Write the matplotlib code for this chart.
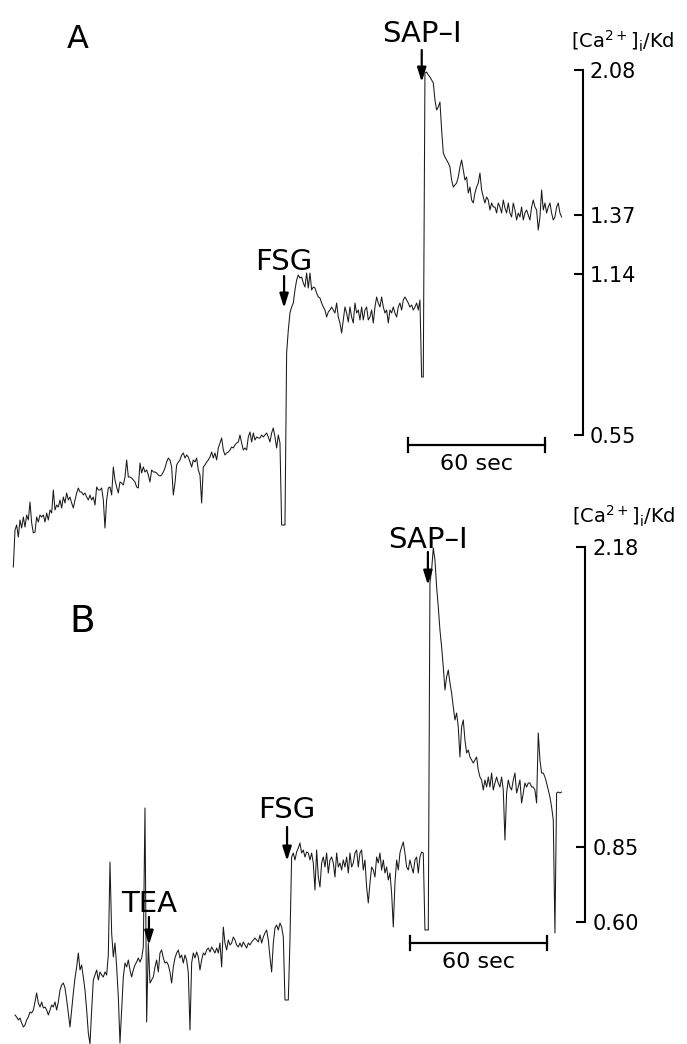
import numpy as np
import matplotlib
matplotlib.use("Agg")
import matplotlib.pyplot as plt

# sampling interval of the ratio traces (s)
DT = 0.73

# panel A: fluorescence ratio (a.u.), one sample every DT
ratio_A = [
    0.33, 0.70, 0.75, 0.63, 0.80, 0.72, 0.83, 0.73, 0.85, 0.80, 0.98, 0.77,
    0.67, 0.68, 0.83, 0.78, 0.85, 0.83, 0.85, 0.78, 0.87, 0.80, 0.90, 0.87,
    1.10, 0.90, 0.95, 0.93, 1.00, 0.92, 1.03, 0.97, 1.07, 1.00, 1.03, 0.97,
    0.92, 1.00, 1.07, 1.12, 1.08, 1.08, 1.05, 1.07, 1.03, 1.00, 1.05, 1.00,
    1.03, 0.95, 1.13, 1.10, 1.10, 1.12, 1.00, 0.72, 1.00, 1.12, 1.13, 1.05,
    1.33, 1.20, 1.13, 1.07, 1.18, 1.17, 1.15, 1.23, 1.40, 1.23, 1.23, 1.22,
    1.20, 1.18, 1.13, 1.12, 1.37, 1.27, 1.33, 1.28, 1.30, 1.25, 1.18, 1.30,
    1.28, 1.28, 1.27, 1.25, 1.24, 1.25, 1.28, 1.32, 1.38, 1.42, 1.40, 1.33,
    1.05, 1.17, 1.35, 1.38, 1.40, 1.45, 1.47, 1.42, 1.45, 1.43, 1.38, 1.33,
    1.40, 1.38, 1.42, 1.30, 1.25, 0.97, 1.33, 1.35, 1.38, 1.40, 1.43, 1.48,
    1.42, 1.47, 1.40, 1.52, 1.57, 1.62, 1.50, 1.45, 1.47, 1.48, 1.50, 1.53,
    1.52, 1.55, 1.57, 1.58, 1.65, 1.57, 1.50, 1.52, 1.50, 1.63, 1.68, 1.58,
    1.67, 1.60, 1.63, 1.62, 1.62, 1.65, 1.63, 1.65, 1.67, 1.63, 1.58, 1.67,
    1.72, 1.63, 1.52, 1.65, 1.57, 0.75, 0.75, 0.75,
    # FSG
    2.47, 2.70, 2.87, 2.93, 2.97, 3.10, 3.20, 3.25, 3.22, 3.23, 3.17, 3.13,
    3.27, 3.12, 3.27, 3.10, 3.13, 3.12, 3.07, 3.03, 3.02, 2.97, 2.93, 2.90,
    2.83, 2.88, 2.90, 2.93, 2.90, 2.87, 2.97, 2.83, 2.77, 2.67, 2.80, 2.93,
    2.87, 2.78, 2.93, 2.83, 2.77, 2.97, 2.87, 2.90, 2.80, 2.93, 2.80, 2.90,
    2.93, 2.80, 2.83, 2.90, 2.77, 2.93, 3.03, 2.97, 2.93, 3.03, 2.93, 2.87,
    2.90, 2.77, 2.90, 2.87, 2.93, 2.87, 2.83, 2.93, 2.97, 2.90, 3.00, 3.03,
    3.00, 2.97, 2.93, 2.95, 2.90, 2.93, 2.97, 2.90, 3.00, 2.23, 2.23,
    # SAP-I
    5.27, 5.28, 5.25, 5.23, 5.20, 5.17, 5.00, 4.90, 4.93, 4.98, 4.70, 4.47, 4.43,
    4.40, 4.37, 4.33, 4.20, 4.13, 4.15, 4.17, 4.23, 4.33, 4.40, 4.30, 4.20,
    4.23, 4.07, 4.13, 4.00, 3.97, 4.07, 4.13, 4.17, 4.27, 4.10, 4.03, 3.97,
    4.03, 4.00, 3.90, 3.97, 3.93, 3.93, 3.87, 3.97, 3.93, 3.87, 4.00, 3.92,
    3.87, 3.97, 3.87, 3.83, 3.97, 3.90, 3.80, 3.87, 3.83, 3.93, 3.80, 3.87,
    3.90, 3.85, 3.80, 3.93, 4.00, 3.93, 3.90, 3.70, 3.83, 4.10, 3.90, 3.97,
    3.87, 3.93, 3.97, 3.87, 3.80, 3.83, 3.93, 3.97, 3.87, 3.83,
]

# panel B: fluorescence ratio (a.u.), starts one sample later than A
ratio_B = [
    0.35, 0.33, 0.30, 0.32, 0.27, 0.23, 0.25, 0.30, 0.33, 0.38, 0.37, 0.40,
    0.48, 0.57, 0.47, 0.43, 0.48, 0.42, 0.43, 0.40, 0.35, 0.40, 0.45, 0.43,
    0.48, 0.40, 0.48, 0.60, 0.65, 0.67, 0.62, 0.50, 0.37, 0.23, 0.40, 0.57,
    0.72, 0.83, 0.97, 0.80, 0.85, 0.73, 0.60, 0.40, 0.17, 0.06, 0.40, 0.70,
    0.75, 0.80, 0.70, 0.78, 0.75, 0.73, 0.78, 0.75, 0.95, 1.88, 1.17, 0.93,
    1.07, 0.83, 0.53, 0.07, 0.40, 0.73, 0.87, 0.83, 0.90, 0.80, 0.73, 0.80,
    # TEA
    0.85, 0.88, 0.92, 0.88, 0.92, 1.03, 2.42, 0.28, 1.07, 0.67, 0.70, 0.73,
    0.83, 0.90, 0.78, 0.97, 1.00, 0.92, 0.87, 0.88, 0.85, 0.78, 0.67, 0.83,
    0.92, 0.97, 1.00, 0.92, 0.95, 0.87, 0.95, 0.90, 0.77, 0.20, 0.87, 0.97,
    0.92, 0.98, 0.93, 0.80, 0.90, 0.97, 0.95, 1.00, 1.02, 0.98, 1.03, 1.00,
    0.97, 1.02, 0.97, 1.07, 0.83, 1.23, 1.07, 1.00, 1.10, 1.05, 1.07, 1.13,
    1.10, 1.05, 1.03, 1.07, 1.03, 1.08, 1.05, 1.02, 1.07, 1.05, 1.08, 1.10,
    1.12, 1.10, 1.08, 1.15, 1.07, 1.13, 1.17, 1.20, 1.10, 0.93, 0.78, 1.07,
    1.22, 1.25, 1.20, 1.27, 1.23, 1.13, 0.50, 0.50, 0.50,
    # FSG
    1.10, 1.93, 1.97, 1.90, 1.98, 2.02, 2.07, 1.97, 2.00, 1.93, 1.98, 1.97,
    1.90, 1.97, 1.87, 1.60, 2.00, 1.73, 1.63, 1.87, 1.93, 1.83, 1.97, 1.77,
    1.90, 1.93, 1.87, 1.73, 1.97, 1.83, 1.87, 1.80, 1.90, 1.83, 1.93, 1.77,
    1.97, 1.83, 1.87, 1.97, 2.00, 1.83, 1.97, 2.00, 1.80, 1.90, 1.63, 1.47,
    1.67, 1.83, 1.80, 1.73, 1.93, 1.87, 1.97, 1.80, 1.90, 1.77, 1.83, 1.70,
    1.77, 1.57, 1.23, 1.67, 1.90, 1.80, 1.97, 2.03, 2.08, 1.97, 1.83, 1.80,
    1.90, 1.83, 1.77, 1.90, 1.93, 1.77, 1.93, 1.98, 1.97, 1.20, 1.20, 1.20,
    # SAP-I
    4.67, 4.80, 5.02, 4.90, 4.63, 4.43, 4.20, 4.03, 3.83, 3.60, 3.73, 3.80,
    3.67, 3.57, 3.43, 3.30, 3.37, 3.23, 2.93, 3.23, 3.30, 3.10, 2.97, 3.00,
    2.93, 2.90, 2.87, 2.90, 2.93, 2.80, 2.73, 2.70, 2.60, 2.70, 2.63, 2.73,
    2.63, 2.77, 2.60, 2.67, 2.73, 2.67, 2.63, 2.73, 2.60, 2.10, 2.57, 2.70,
    2.63, 2.60, 2.70, 2.77, 2.57, 2.63, 2.70, 2.47, 2.57, 2.67, 2.63, 2.67,
    2.67, 2.63, 2.63, 2.60, 2.47, 3.17, 2.90, 2.77, 2.77, 2.73, 2.67, 2.60,
    2.53, 2.43, 2.30, 1.17, 2.57, 2.58, 2.57, 2.58,
]

# calibration of the ratio scale in [Ca2+]i/Kd
calib_A_ratio = [5.30, 3.85, 3.26, 1.65]
calib_A_label = ["2.08", "1.37", "1.14", "0.55"]
calib_B_ratio = [5.03, 2.03, 1.28]
calib_B_label = ["2.18", "0.85", "0.60"]

# drug additions: (label, time in s)
events_A = [("FSG", 118.6), ("SAP\u2013I", 178.9)]
events_B = [("TEA", 59.4), ("FSG", 119.9), ("SAP\u2013I", 181.6)]

t_A = DT * np.arange(len(ratio_A))
t_B = DT * (np.arange(len(ratio_B)) + 1)

plt.rcParams['font.family'] = 'DejaVu Sans'
plt.rcParams['mathtext.default'] = 'regular'

fig = plt.figure(figsize=(6.87, 10.44), dpi=100)
axA = fig.add_axes([0, 444 / 1044, 1, 600 / 1044])
axB = fig.add_axes([0, -6 / 1044, 1, 600 / 1044])


def setup(ax, t, r, ticks, labels, spine_t):
    ax.plot(t, r, color='#1a1a1a', lw=0.75)
    ax.set_xlim(-5.84, 295.1)
    ax.set_ylim(0, 6)
    ax.patch.set_visible(False)
    for s in ['left', 'top', 'bottom']:
        ax.spines[s].set_visible(False)
    ax.xaxis.set_visible(False)
    ax.spines['right'].set_position(('data', spine_t))
    ax.spines['right'].set_bounds(min(ticks), max(ticks))
    ax.spines['right'].set_linewidth(1.5)
    ax.yaxis.tick_right()
    ax.set_yticks(ticks, labels)
    ax.tick_params(axis='y', direction='in', length=6.5, width=1.5,
                   pad=5, labelsize=15)


def arrow(ax, t, top, tip):
    ax.annotate('', xy=(t, tip), xytext=(t, top),
                arrowprops=dict(arrowstyle='-|>,head_length=0.7,head_width=0.22',
                                lw=1.6, color='k', mutation_scale=12,
                                shrinkA=0, shrinkB=0))


def scalebar(ax, t0, v, text_v):
    ax.plot([t0, t0 + 60], [v, v], color='k', lw=1.6)
    ax.plot([t0, t0], [v - 0.07, v + 0.07], color='k', lw=1.6)
    ax.plot([t0 + 60, t0 + 60], [v - 0.07, v + 0.07], color='k', lw=1.6)
    ax.text(t0 + 30, text_v, '60 sec', ha='center', va='baseline', fontsize=16)


setup(axA, t_A, ratio_A, calib_A_ratio, calib_A_label, 249.5)
setup(axB, t_B, ratio_B, calib_B_ratio, calib_B_label, 250.5)

ca_label = r'[Ca$^{2+}$]$_{i}$/Kd'
axA.text(267, 5.52, ca_label, ha='center', va='baseline', fontsize=14)
axB.text(267.5, 5.27, ca_label, ha='center', va='baseline', fontsize=14)

axA.text(28.3, 5.52, 'A', ha='center', va='baseline', fontsize=23)
axB.text(30.1, 4.18, 'B', ha='center', va='baseline', fontsize=27)

# panel A annotations: (text baseline, arrow top, arrow tip)
ann_A = [(3.30, 3.24, 2.92), (5.58, 5.50, 5.18)]
for (name, t), (tb, a0, a1) in zip(events_A, ann_A):
    axA.text(t, tb, name, ha='center', va='baseline', fontsize=21)
    arrow(axA, t, a0, a1)

ann_B = [(1.38, 1.33, 1.05), (2.32, 2.23, 1.89), (5.02, 4.98, 4.65)]
for (name, t), (tb, a0, a1) in zip(events_B, ann_B):
    axB.text(t, tb, name, ha='center', va='baseline', fontsize=21)
    arrow(axB, t, a0, a1)

scalebar(axA, 172.8, 1.55, 1.30)
scalebar(axB, 173.7, 1.07, 0.82)

fig.savefig('out.png', dpi=100, facecolor='white')
